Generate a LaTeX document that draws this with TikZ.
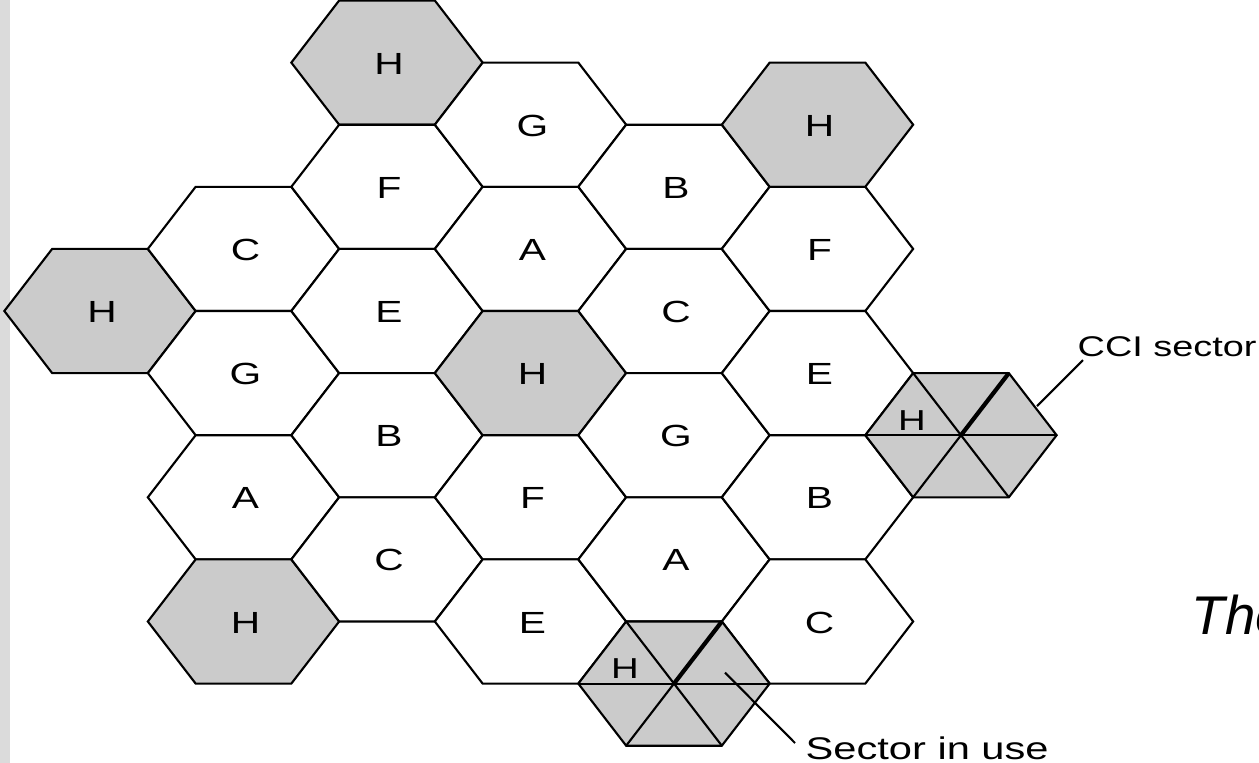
\documentclass[tikz,border=0pt]{standalone}
\usepackage{fontspec}
\setmainfont[FakeStretch=1.33]{Liberation Sans}
\newfontfamily\slidefont{Liberation Sans}
\usepackage{tikz}
\definecolor{cellgray}{RGB}{203,203,203}

\begin{document}
\begin{tikzpicture}[x=0.01cm, y=-0.01cm,
    cell/.style = {draw, line width=0.6pt, line join=miter},
    lbl/.style = {font=\fontsize{8.7}{10}\selectfont, inner sep=0pt},
    note/.style = {font=\fontsize{8.9}{10}\selectfont, inner sep=0pt, anchor=base west}]
    \useasboundingbox (0,0) rectangle (1259,763);
    \clip (0,0) rectangle (1259,763);
    \fill[gray!28] (0,0) rectangle (10,763);
    \foreach \c/\k/\t/\f in {0/5/H/cellgray,
        1/4/C/white, 1/6/G/white, 1/8/A/white, 1/10/H/cellgray,
        2/1/H/cellgray, 2/3/F/white, 2/5/E/white, 2/7/B/white, 2/9/C/white,
        3/2/G/white, 3/4/A/white, 3/6/H/cellgray, 3/8/F/white, 3/10/E/white,
        4/3/B/white, 4/5/C/white, 4/7/G/white, 4/9/A/white,
        5/2/H/cellgray, 5/4/F/white, 5/6/E/white, 5/8/B/white, 5/10/C/white} {
        \coordinate (p\c-\k) at (100+143.5*\c, 0.5+62.1*\k);
        \draw[cell, fill=\f] (p\c-\k) ++(-95.67,0) -- ++(47.83,-62.1) -- ++(95.67,0)
            -- ++(47.83,62.1) -- ++(-47.83,62.1) -- ++(-95.67,0) -- cycle;
        \path (p\c-\k) ++(2,1) node[lbl] (cell-\c-\k) {\t};
    }
    \foreach \c/\k in {6/7, 4/11} {
        \coordinate (s\c) at (100+143.5*\c, 0.5+62.1*\k);
        \draw[cell, fill=cellgray] (s\c) ++(-95.67,0) -- ++(47.83,-62.1) -- ++(95.67,0)
            -- ++(47.83,62.1) -- ++(-47.83,62.1) -- ++(-95.67,0) -- cycle;
        \draw[cell] (s\c) ++(-95.67,0) -- ++(191.33,0);
        \draw[cell] (s\c) ++(-47.83,-62.1) -- ++(95.67,124.2);
        \draw[cell] (s\c) ++(47.83,-62.1) -- ++(-95.67,124.2);
        \draw[cell, line width=1.2pt] (s\c) -- ++(47.83,-62.1);
        \path (s\c) ++(-49,-15) node[lbl, font=\fontsize{8.2}{10}\selectfont] (sh\c) {H};
    }
    \path (s6) ++(76,-29) coordinate (cciend);
    \path (s4) ++(51,-11) coordinate (useend);
    \node[note, font=\fontsize{8.1}{10}\selectfont] (cci) at (1077,356) {CCI sector};
    \node[note] (inuse) at (805,759) {Sector in use};
    \node[note, font=\slidefont\itshape\fontsize{15.5}{18}\selectfont] (the) at (1191,634) {The};
    \draw[cell] (cciend) -- ([shift={(6,4)}]cci.base west);
    \draw[cell] (useend) -- ([shift={(-10,-16)}]inuse.base west);
\end{tikzpicture}
\end{document}
